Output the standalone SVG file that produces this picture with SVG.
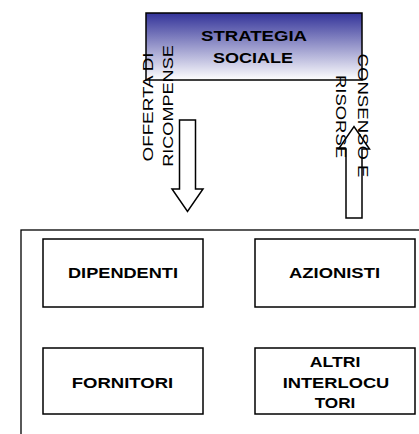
<svg xmlns="http://www.w3.org/2000/svg" width="419" height="434" viewBox="0 0 419 434">
  <style>
    .box { fill: #ffffff; stroke: #000000; stroke-width: 1.5; }
    .frame { fill: none; stroke: #000000; stroke-width: 1.3; }
    .label { font-family: "Liberation Sans", Arial, sans-serif; font-size: 15.5px; font-weight: bold; fill: #000000; text-anchor: middle; }
    .flow { font-family: "Liberation Sans", Arial, sans-serif; font-size: 15.5px; fill: #000000; text-anchor: middle; }
    .block-arrow { fill: none; stroke: #000000; stroke-width: 1.5; stroke-linejoin: miter; }
  </style>
  <defs>
    <linearGradient id="strategyFill" x1="0" y1="0" x2="0" y2="1">
      <stop offset="0" stop-color="#333399"/>
      <stop offset="1" stop-color="#ffffff"/>
    </linearGradient>
  </defs>

  <rect width="419" height="434" fill="#ffffff"/>

  <!-- stakeholder area, open to the right and bottom -->
  <g id="stakeholders">
    <rect class="frame" x="21" y="230" width="430" height="230"/>
  </g>

  <g id="strategia-sociale">
    <rect x="146" y="13" width="216" height="67" fill="url(#strategyFill)" stroke="#000000" stroke-width="1.5"/>
    <text class="label" x="254" y="40.7" textLength="106" lengthAdjust="spacingAndGlyphs">STRATEGIA</text>
    <text class="label" x="253" y="63.3" textLength="80" lengthAdjust="spacingAndGlyphs">SOCIALE</text>
  </g>

  <g id="dipendenti">
    <rect class="box" x="43" y="239" width="160" height="68"/>
    <text class="label" x="123" y="278.3" textLength="110" lengthAdjust="spacingAndGlyphs">DIPENDENTI</text>
  </g>

  <g id="azionisti">
    <rect class="box" x="255" y="239" width="160" height="68"/>
    <text class="label" x="334.5" y="278.3" textLength="91" lengthAdjust="spacingAndGlyphs">AZIONISTI</text>
  </g>

  <g id="fornitori">
    <rect class="box" x="43" y="348" width="160" height="66"/>
    <text class="label" x="122.5" y="388" textLength="101.5" lengthAdjust="spacingAndGlyphs">FORNITORI</text>
  </g>

  <g id="altri-interlocutori">
    <rect class="box" x="255" y="348" width="160" height="66"/>
    <text class="label" x="335" y="366.7" textLength="50.7" lengthAdjust="spacingAndGlyphs">ALTRI</text>
    <text class="label" x="336" y="387.7" textLength="106.7" lengthAdjust="spacingAndGlyphs">INTERLOCU</text>
    <text class="label" x="335" y="408.3" textLength="40.7" lengthAdjust="spacingAndGlyphs">TORI</text>
  </g>

  <g id="connectors">
    <!-- offer of rewards: strategy down to stakeholders -->
    <polygon class="block-arrow" points="179.5,120 195.5,120 195.5,189 203,189 187.5,211.5 172,189 179.5,189"/>
    <!-- consensus and resources: stakeholders up to strategy -->
    <polygon class="block-arrow" points="346,218 362,218 362,149 369.5,149 354,126.5 338.5,149 346,149"/>
    <text class="flow" transform="translate(152.5,107) rotate(-90)" textLength="109" lengthAdjust="spacingAndGlyphs">OFFERTA DI</text>
    <text class="flow" transform="translate(173.3,106) rotate(-90)" textLength="121.5" lengthAdjust="spacingAndGlyphs">RICOMPENSE</text>
    <text class="flow" transform="translate(357.5,115.5) rotate(90)" textLength="124" lengthAdjust="spacingAndGlyphs">CONSENSO E</text>
    <text class="flow" transform="translate(336.2,116.5) rotate(90)" textLength="83" lengthAdjust="spacingAndGlyphs">RISORSE</text>
  </g>
</svg>
